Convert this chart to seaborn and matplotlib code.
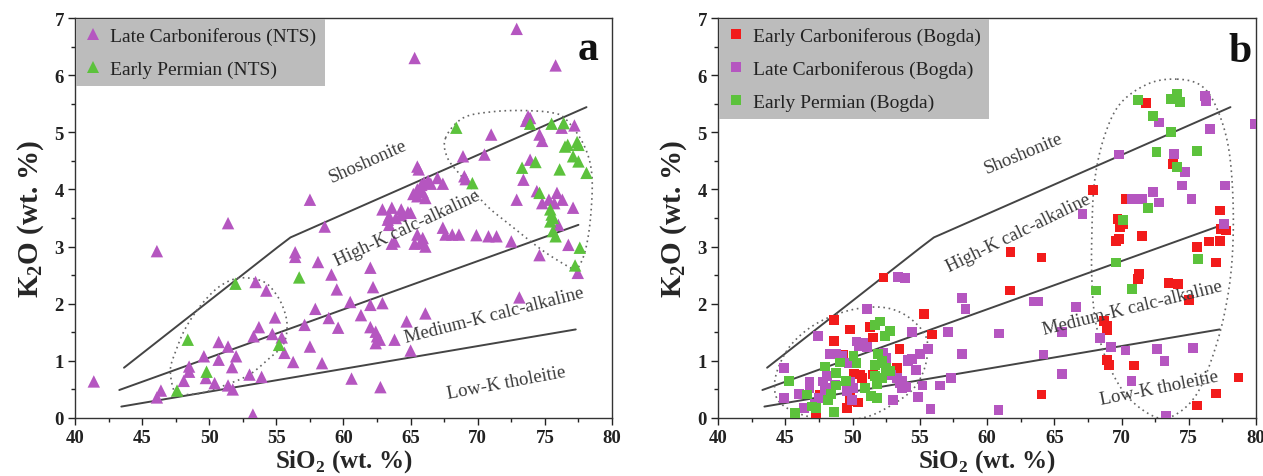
import numpy as np
import pandas as pd
import matplotlib
matplotlib.use("Agg")
import matplotlib.pyplot as plt
import seaborn as sns
from matplotlib.lines import Line2D
from matplotlib.ticker import MultipleLocator

# ---------------- data: panel a (NTS) ----------------
a_lc_sio2 = [41.4, 46.1, 51.4, 46.4, 46.1, 53.45, 54.25, 56.4, 56.4,
             54.9, 53.7, 53.3, 54.7, 55.4, 55.6, 56.25, 50.7, 51.4, 52.0, 50.7, 51.7, 49.6, 48.5, 48.5, 48.1,
             50.4, 49.75, 51.4, 51.75, 53.0, 53.9, 53.25,
             57.5, 58.6, 58.1, 59.1, 59.5, 62.0, 62.2, 60.5, 62.0, 62.9, 57.9, 57.1, 58.9, 59.6, 61.3, 62.0,
             62.4, 62.5, 62.7, 62.4, 63.8, 64.7, 66.1, 65.0, 57.5, 58.4, 60.6, 62.75,
             65.5, 65.6, 65.2, 65.5, 65.8, 66.0, 66.3, 66.1, 65.9, 67.0, 67.4, 65.5, 66.5,
             62.9, 63.6, 64.3, 65.0, 63.4, 63.9, 64.3, 63.4, 63.3, 64.8,
             63.8, 63.6, 65.5, 65.8, 66.1, 65.9, 65.3,
             67.4, 67.6, 68.1, 68.6, 69.9, 70.8, 71.4, 68.9, 69.0, 69.1,
             72.9, 75.8, 65.3,
             73.6, 73.75, 73.9, 77.2, 76.25, 74.6, 74.8, 71.0, 70.5, 73.9, 73.4, 72.9, 74.4, 74.8, 75.3,
             75.9, 76.3, 75.7, 77.1, 76.0, 72.5, 76.75, 74.6, 77.45, 73.1]
a_lc_k2o = [0.64, 2.92, 3.41, 0.48, 0.36, 2.38, 2.23, 2.90, 2.82,
            1.76, 1.59, 1.43, 1.47, 1.41, 1.14, 0.98, 1.33, 1.25, 1.08, 1.02, 0.89, 1.08, 0.90, 0.81, 0.65,
            0.61, 0.70, 0.57, 0.50, 0.76, 0.72, 0.06,
            3.82, 3.35, 2.73, 2.51, 2.25, 2.63, 2.29, 2.03, 1.98, 2.01, 1.91, 1.63, 1.75, 1.58, 1.80, 1.59,
            1.51, 1.43, 1.37, 1.31, 1.37, 1.69, 1.83, 1.18, 1.25, 0.96, 0.69, 0.54,
            4.40, 4.35, 3.92, 4.00, 4.08, 4.12, 4.15, 3.85, 3.95, 4.20, 4.10, 3.88, 4.10,
            3.65, 3.68, 3.65, 3.59, 3.53, 3.50, 3.55, 3.38, 3.47, 3.60,
            3.09, 3.05, 3.21, 3.06, 3.00, 3.15, 3.05,
            3.33, 3.21, 3.21, 3.21, 3.20, 3.18, 3.18, 4.58, 4.23, 4.18,
            6.81, 6.17, 6.30,
            5.20, 5.28, 5.25, 5.12, 5.08, 4.96, 4.85, 4.96, 4.61, 4.52, 4.17, 3.82, 3.97, 3.76, 3.82,
            3.94, 3.82, 3.76, 3.68, 3.38, 3.09, 3.03, 2.85, 2.54, 2.11]

a_ep_sio2 = [51.95, 48.4, 49.8, 47.6, 55.2, 56.7, 68.4, 69.6, 73.9, 75.5, 76.4, 76.5, 76.7, 77.4, 77.5,
             77.1, 77.5, 78.1, 73.3, 74.3, 76.1, 74.6, 75.4, 75.5, 75.6, 75.4, 75.6, 75.8, 77.6, 77.25]
a_ep_k2o = [2.35, 1.37, 0.81, 0.48, 1.28, 2.46, 5.08, 4.11, 5.15, 5.15, 5.16, 4.75, 4.78, 4.83, 4.78,
            4.58, 4.49, 4.29, 4.38, 4.48, 4.35, 3.94, 3.65, 3.56, 3.50, 3.44, 3.27, 3.18, 2.98, 2.67]

# ---------------- data: panel b (Bogda) ----------------
b_ec_sio2 = [48.6, 49.8, 48.6, 51.3, 51.5, 53.5, 53.3, 50.6, 50.7, 50.1, 49.3, 51.5, 49.8, 49.9, 47.6,
             47.3, 49.6, 50.4, 52.3, 55.3, 55.9,
             61.75, 64.05, 61.7, 64.05, 67.9, 70.3, 69.7, 69.9, 70.1, 69.6, 69.8, 71.5, 71.8, 73.8, 71.3,
             71.25, 73.5, 74.2, 75.0, 75.6, 76.5, 77.0, 77.35, 77.35, 77.4, 77.8, 68.7, 68.9, 68.95,
             68.9, 69.1, 70.9, 75.6, 77.05, 78.7]
b_ec_k2o = [1.71, 1.55, 1.35, 1.59, 1.41, 1.21, 0.88, 0.76, 0.70, 0.77, 1.11, 0.76, 0.35, 0.29, 0.41,
            0.09, 0.18, 0.27, 2.46, 1.82, 1.46,
            2.90, 2.81, 2.23, 0.41, 3.99, 3.83, 3.48, 3.34, 3.40, 3.10, 3.13, 3.18, 5.51, 4.45, 2.52,
            2.43, 2.36, 2.35, 2.07, 2.99, 3.09, 2.72, 3.63, 3.10, 3.31, 3.28, 1.70, 1.62, 1.53,
            1.02, 0.93, 0.92, 0.22, 0.43, 0.71]

b_lc_sio2 = [44.9, 44.9, 46.0, 46.8, 46.8, 46.4, 47.46, 51.06, 50.3, 50.8, 51.06, 50.44, 48.3, 48.6, 48.8,
             49.2, 49.7, 48.1, 47.8, 48.3, 47.96, 48.7, 49.8, 50.07, 49.6, 49.94, 52.3, 52.5, 52.7, 52.9,
             53.3, 53.5, 53.66, 53.04, 54.15, 54.4, 53.4, 53.9, 54.4, 54.1, 53.7, 54.0, 54.7, 55.2, 55.6,
             55.0, 54.9, 55.8, 56.5, 57.3, 57.1, 58.15, 58.4, 58.15, 60.9, 60.85, 63.5, 63.8, 64.2, 65.6,
             65.6, 66.6, 67.1, 68.4, 69.2, 69.8, 70.3, 70.75, 70.8, 71.55, 72.35, 72.8, 72.8, 72.65, 73.2,
             73.3, 73.9, 74.5, 74.7, 75.2, 75.3, 76.2, 76.3, 76.6, 77.7, 77.6, 79.9, 47.2, 47.5]
b_lc_k2o = [0.88, 0.35, 0.42, 0.64, 0.53, 0.18, 1.43, 1.91, 1.34, 1.31, 1.24, 1.25, 1.12, 1.11, 1.12,
            1.08, 0.96, 0.73, 0.64, 0.53, 0.47, 0.58, 0.64, 0.53, 0.47, 0.32, 1.14, 1.05, 0.82, 0.75,
            0.70, 0.61, 0.53, 0.32, 1.02, 1.50, 2.47, 2.45, 1.03, 1.00, 0.65, 0.54, 0.84, 0.57, 1.21,
            1.12, 0.37, 0.16, 0.57, 0.70, 1.50, 2.10, 1.91, 1.12, 1.48, 0.14, 2.04, 2.04, 1.11, 1.50,
            0.77, 1.94, 3.57, 1.40, 1.24, 4.61, 1.18, 0.65, 3.83, 3.83, 3.95, 3.77, 5.17, 1.21, 1.00,
            0.04, 4.62, 4.07, 4.30, 3.83, 1.23, 5.64, 5.55, 5.06, 4.07, 3.40, 5.15, 0.25, 0.35]

b_ep_sio2 = [45.25, 45.75, 46.6, 47.0, 47.3, 47.96, 48.8, 50.07, 50.3, 51.7, 52.05, 52.4, 52.8, 51.7, 52.2,
             51.7, 52.2, 52.5, 52.8, 50.9, 51.4, 51.8, 48.6, 48.2, 48.4, 49.1, 49.5, 48.8, 51.9, 52.2, 51.8,
             68.1, 69.6, 70.1, 70.8, 71.2, 72.35, 72.6, 72.0, 73.7, 73.7, 74.1, 74.1, 74.35, 74.1, 75.6, 75.7]
b_ep_k2o = [0.65, 0.09, 0.41, 0.20, 0.17, 0.90, 0.79, 1.08, 0.96, 1.63, 1.69, 1.43, 1.52, 0.93, 0.96,
            0.73, 0.70, 0.88, 0.82, 0.53, 0.38, 0.35, 0.10, 0.32, 0.42, 0.97, 0.65, 0.57, 1.12, 1.00, 0.60,
            2.23, 2.72, 3.47, 2.26, 5.57, 5.29, 4.65, 3.68, 5.01, 5.58, 5.67, 5.58, 5.53, 4.39, 4.67, 2.78]

# ---------------- classification boundaries (Peccerillo & Taylor) ----------------
shosh_sio2 = [43.65, 55.1, 56.05, 78.1]
shosh_k2o = [0.88, 2.99, 3.16, 5.44]
highk_sio2 = [43.3, 77.5]
highk_k2o = [0.49, 3.38]
lowk_sio2 = [43.45, 77.3]
lowk_k2o = [0.20, 1.55]

field_names = ["Shoshonite", "High-K calc-alkaline", "Medium-K calc-alkaline", "Low-K tholeitie"]
a_field_x = [61.8, 64.75, 71.2, 72.15]
a_field_y = [4.50, 3.33, 1.80, 0.62]
a_field_rot = [24, 25, 14.3, 10.6]
b_field_x = [62.75, 62.3, 70.8, 72.8]
b_field_y = [4.63, 3.25, 1.94, 0.52]
b_field_rot = [22.4, 26, 13.8, 11.3]

# dotted outlines of sample groups
a_out1_x = [47.5, 47.1, 47.5, 48.25, 49.4, 50.75, 52.25, 54.0, 55.0, 55.6, 55.8, 55.5, 54.5, 53.0, 51.25, 49.5, 48.25]
a_out1_y = [0.41, 0.82, 1.17, 1.58, 1.98, 2.30, 2.45, 2.39, 2.16, 1.87, 1.58, 1.28, 1.05, 0.76, 0.58, 0.44, 0.41]
a_out2_x = [67.6, 68.9, 71.1, 73.5, 75.6, 76.6, 77.9, 78.5, 78.4, 78.0, 77.4, 76.9, 74.9, 72.4, 70.6, 68.9, 67.75]
a_out2_y = [4.90, 5.25, 5.36, 5.38, 5.34, 5.22, 4.78, 4.26, 3.50, 2.92, 2.61, 2.63, 2.92, 3.38, 3.73, 4.20, 4.55]
b_out1_x = [44.2, 44.5, 45.5, 47.3, 49.7, 52.05, 53.8, 55.2, 55.6, 55.3, 54.4, 52.65, 50.9, 48.5, 46.1, 44.6]
b_out1_y = [0.54, 0.89, 1.30, 1.65, 1.88, 1.94, 1.82, 1.53, 1.24, 0.83, 0.48, 0.19, 0.01, -0.05, 0.07, 0.27]
b_out2_x = [74.1, 72.0, 69.9, 68.7, 68.0, 67.8, 67.8, 68.1, 69.0, 70.5, 72.6, 74.1, 75.6, 76.75, 77.65,
            78.2, 78.3, 77.95, 77.05, 75.9]
b_out2_y = [5.93, 5.85, 5.50, 4.91, 4.15, 3.28, 2.40, 1.65, 0.95, 0.36, 0.01, 0.07, 0.42, 1.06, 1.82,
            2.70, 3.75, 4.74, 5.44, 5.82]

a_groups = ["Late Carboniferous (NTS)", "Early Permian (NTS)"]
b_groups = ["Early Carboniferous (Bogda)", "Late Carboniferous (Bogda)", "Early Permian (Bogda)"]

PURPLE = "#b556c0"
GREEN = "#5cc23c"
RED = "#f21b1b"

# ---------------- style ----------------
sns.set_theme(style="ticks")
plt.rcParams['font.family'] = ['Liberation Serif', 'DejaVu Serif']
plt.rcParams['mathtext.fontset'] = 'custom'
plt.rcParams['mathtext.rm'] = 'Liberation Serif'
plt.rcParams['mathtext.bf'] = 'Liberation Serif:bold'


def closed_smooth(xs, ys, n=16):
    P = np.column_stack([xs, ys])
    k = len(P)
    segs = []
    t = np.linspace(0, 1, n, endpoint=False)[:, None]
    for i in range(k):
        p0, p1, p2, p3 = P[(i - 1) % k], P[i], P[(i + 1) % k], P[(i + 2) % k]
        segs.append(0.5 * ((2 * p1) + (-p0 + p2) * t + (2 * p0 - 5 * p1 + 4 * p2 - p3) * t ** 2
                           + (-p0 + 3 * p1 - 3 * p2 + p3) * t ** 3))
    out = np.vstack(segs + [segs[0][:1]])
    return out[:, 0], out[:, 1]


def setup_axes(ax, field_x, field_y, field_rot, outlines, letter, lx, ly):
    ax.set_xlim(40, 80)
    ax.set_ylim(0, 7)
    ax.xaxis.set_major_locator(MultipleLocator(5))
    ax.xaxis.set_minor_locator(MultipleLocator(2.5))
    ax.yaxis.set_major_locator(MultipleLocator(1))
    ax.yaxis.set_minor_locator(MultipleLocator(0.5))
    ax.tick_params(which='major', direction='out', length=5, width=1, labelsize=13.5, colors='#222222', pad=3)
    ax.tick_params(which='minor', direction='out', length=3, width=1, colors='#222222')
    for lab in ax.get_xticklabels() + ax.get_yticklabels():
        lab.set_fontweight('bold')
    for s in ax.spines.values():
        s.set_linewidth(1.0)
        s.set_color('#333333')
    lc = '#444444'
    ax.plot(shosh_sio2, shosh_k2o, color=lc, lw=1.4, zorder=2)
    ax.plot(highk_sio2, highk_k2o, color=lc, lw=1.4, zorder=2)
    ax.plot(lowk_sio2, lowk_k2o, color=lc, lw=1.4, zorder=2)
    for ox, oy in outlines:
        sx, sy = closed_smooth(ox, oy)
        ax.plot(sx, sy, color='#666666', lw=1.2, linestyle=(0, (1, 2.2)), zorder=2)
    for name, x, y, r in zip(field_names, field_x, field_y, field_rot):
        ax.text(x, y, name, rotation=r, rotation_mode='anchor', ha='center', va='center',
                fontsize=13.5, color='#3a3a3a', zorder=4)
    ax.text(lx, ly, letter, fontsize=30, fontweight='bold', ha='center', va='center', color='#111111')


fig = plt.figure(figsize=(12.63, 4.77), dpi=100)
axA = fig.add_axes([75 / 1263, 58 / 477, 537 / 1263, 400 / 477])
axB = fig.add_axes([718 / 1263, 58 / 477, 538 / 1263, 400 / 477])

setup_axes(axA, a_field_x, a_field_y, a_field_rot,
           [(a_out1_x, a_out1_y), (a_out2_x, a_out2_y)], 'a', 78.2, 6.45)
setup_axes(axB, b_field_x, b_field_y, b_field_rot,
           [(b_out1_x, b_out1_y), (b_out2_x, b_out2_y)], 'b', 78.8, 6.42)

dfA = pd.concat([
    pd.DataFrame({"SiO2": a_lc_sio2, "K2O": a_lc_k2o, "group": a_groups[0]}),
    pd.DataFrame({"SiO2": a_ep_sio2, "K2O": a_ep_k2o, "group": a_groups[1]}),
], ignore_index=True)
dfB = pd.concat([
    pd.DataFrame({"SiO2": b_ec_sio2, "K2O": b_ec_k2o, "group": b_groups[0]}),
    pd.DataFrame({"SiO2": b_lc_sio2, "K2O": b_lc_k2o, "group": b_groups[1]}),
    pd.DataFrame({"SiO2": b_ep_sio2, "K2O": b_ep_k2o, "group": b_groups[2]}),
], ignore_index=True)

palA = {a_groups[0]: PURPLE, a_groups[1]: GREEN}
palB = {b_groups[0]: RED, b_groups[1]: PURPLE, b_groups[2]: GREEN}

sns.scatterplot(data=dfA, x="SiO2", y="K2O", hue="group", hue_order=a_groups, palette=palA,
                marker="^", s=80, linewidth=0, legend=False, ax=axA, zorder=3)
sns.scatterplot(data=dfB, x="SiO2", y="K2O", hue="group", hue_order=b_groups, palette=palB,
                marker="s", s=50, linewidth=0, legend=False, ax=axB, zorder=3)

for ax in (axA, axB):
    ax.set_xlabel(r"SiO$_\mathbf{2}$ (wt. %)", fontsize=18, fontweight='bold', labelpad=1)
    ax.set_ylabel(r"K$_\mathbf{2}$O (wt. %)", fontsize=21, fontweight='bold', labelpad=6)

hA = [Line2D([], [], ls='none', marker='^', markersize=9, color=palA[g], markeredgewidth=0) for g in a_groups]
hB = [Line2D([], [], ls='none', marker='s', markersize=7, color=palB[g], markeredgewidth=0) for g in b_groups]

for ax, h, labels in ((axA, hA, a_groups), (axB, hB, b_groups)):
    leg = ax.legend(h, labels, loc='upper left', bbox_to_anchor=(0, 1), borderaxespad=0.05,
                    fontsize=14, frameon=True, fancybox=False, facecolor='#bcbcbc', edgecolor='none',
                    framealpha=1, handlelength=0.9, handletextpad=0.45, labelspacing=0.78,
                    borderpad=0.42)
    leg.set_zorder(5)
    for t in leg.get_texts():
        t.set_color('#222222')

fig.savefig("out.png", dpi=100)
